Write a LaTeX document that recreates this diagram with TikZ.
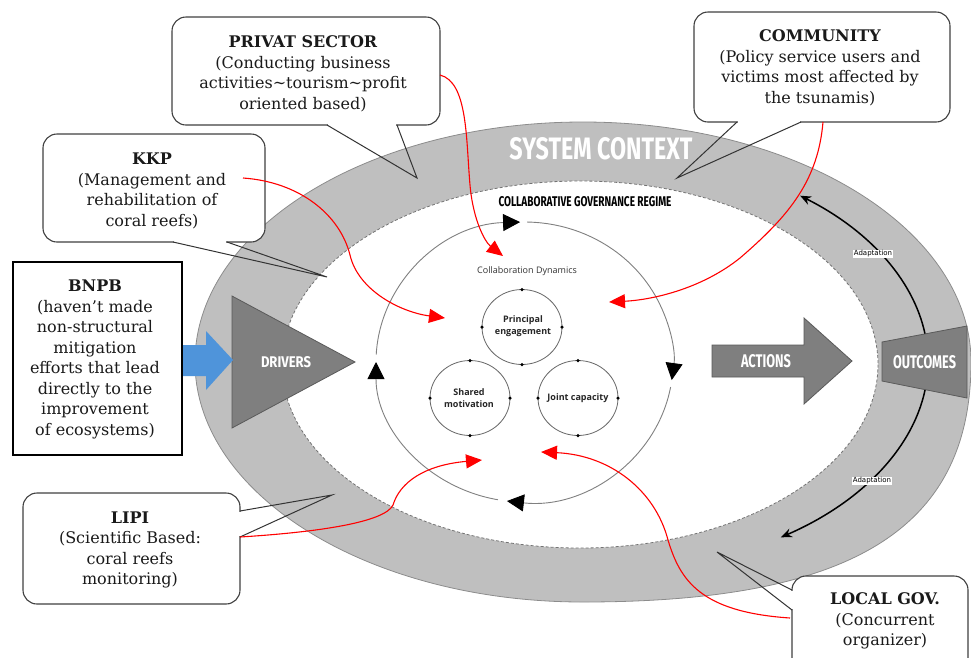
\documentclass[tikz,border=0pt]{standalone}
\usepackage{fontspec}
\usepackage{graphicx}
\setmainfont{DejaVu Serif}
\newfontfamily\labfont{Open Sans}
\newfontfamily\condfont{Fira Sans}
\newfontfamily\tinyfont{DejaVu Sans}
\usetikzlibrary{arrows.meta}
\definecolor{band}{HTML}{BFBFBF}
\definecolor{bandedge}{HTML}{8C8C8C}
\definecolor{shapefill}{HTML}{7F7F7F}
\definecolor{shapeedge}{HTML}{5A5A5A}
\definecolor{bluearrow}{HTML}{4F94DA}
\definecolor{txt}{HTML}{1A1A1A}
\newcommand{\condtext}[3]{\resizebox{#1}{#2}{\condfont\bfseries #3}}
\begin{document}
\begin{tikzpicture}[x=1pt,y=-1pt,
  callout/.style={draw=black!75, line width=1.1pt, rounded corners=14pt, fill=white, inner sep=0pt},
  plainbox/.style={draw=black, line width=1.3pt, fill=white, inner sep=0pt},
  calltext/.style={align=center, text=txt, font=\fontsize{16}{20.5}\selectfont, inner sep=0pt},
  eraser/.style={white, line width=2.6pt, shorten >=1.2pt, shorten <=1.2pt},
  pointer/.style={draw=black!80, line width=1pt, line join=miter},
  redarrow/.style={red, line width=1.1pt, -{Triangle[length=16pt,width=14pt]}},
  bigarc/.style={draw=black!50, line width=0.9pt, -{Triangle[length=17pt,width=17pt,color=black]}},
  smallcirc/.style={draw=black!60, line width=0.8pt},
  cdot/.style={circle, fill=black, inner sep=0pt, minimum size=3.5pt},
  adapt/.style={line width=1.5pt, -{Stealth[length=11pt,width=9pt]}},
  adaptlab/.style={fill=white, inner sep=1pt, font=\tinyfont\fontsize{7}{8}\selectfont},
  bigshape/.style={fill=shapefill, draw=shapeedge, line width=0.8pt},
  condlabel/.style={inner sep=0pt},
  smalllab/.style={align=center, inner sep=0pt, text=black!85, font=\labfont\bfseries\fontsize{9}{12}\selectfont}
]
\useasboundingbox (0,0) rectangle (971,657);

% ---- system context band ----
\path[fill=band, draw=bandedge, line width=0.8pt]
  (195,362) arc[start angle=180, end angle=360, x radius=388, y radius=240]
  .. controls (971,530) and (850,602) .. (583,602)
  arc[start angle=90, end angle=180, x radius=388, y radius=240] -- cycle;
\draw[fill=white, draw=black!55, line width=0.8pt, dash pattern=on 3pt off 2pt]
  (580,364.5) ellipse [x radius=298, y radius=183.5];

% ---- adaptation arcs ----
\draw[adapt] (583,362) ++(-6:345 and 214) arc[start angle=-6, end angle=-51, x radius=345, y radius=214];
\draw[adapt] (583,362) ++(6:345 and 214) arc[start angle=6, end angle=55, x radius=345, y radius=214];
\node[adaptlab] (ad1) at (873,254) {Adaptation};
\node[adaptlab] (ad2) at (872,481) {Adaptation};

% ---- collaboration dynamics circle ----
\begin{scope}[shift={(524.5,362)}]
  \draw[bigarc] (183:148.5 and 140) arc[start angle=183, end angle=268.3, x radius=148.5, y radius=140];
  \draw[bigarc] (271:148.5 and 140) arc[start angle=271, end angle=367.4, x radius=148.5, y radius=140];
  \draw[bigarc] (10.3:148.5 and 140) arc[start angle=10.3, end angle=96.8, x radius=148.5, y radius=140];
  \draw[bigarc] (100.3:148.5 and 140) arc[start angle=100.3, end angle=180, x radius=148.5, y radius=140];
\end{scope}
\node[inner sep=0pt, text=black!80, font=\labfont\fontsize{9}{11}\selectfont] (cdyn) at (527,271) {Collaboration Dynamics};

\draw[smallcirc] (522,327) ellipse [x radius=40, y radius=37.5];
\draw[smallcirc] (470,398) ellipse [x radius=40, y radius=37.5];
\draw[smallcirc] (578,398) ellipse [x radius=40, y radius=37.5];
\foreach \cx/\cy in {522/327, 470/398, 578/398}{
  \node[cdot] at (\cx,\cy-37.5) {};
  \node[cdot] at (\cx+40,\cy) {};
  \node[cdot] at (\cx,\cy+37.5) {};
  \node[cdot] at (\cx-40,\cy) {};
}
\node[smalllab] (pe) at (523,326.5) {Principal\\engagement};
\node[smalllab] (sm) at (469,398) {Shared\\motivation};
\node[smalllab] (jc) at (578,398) {Joint capacity};

% ---- drivers, actions, outcomes ----
\path[bigshape] (232,296) -- (355,362) -- (232,428) -- cycle;
\node[condlabel, text=white] (drv) at (286,362) {\condtext{50pt}{11pt}{DRIVERS}};
\path[bigshape] (712,345) -- (804,345) -- (804,318) -- (852,361) -- (804,404) -- (804,377) -- (712,377) -- cycle;
\node[condlabel, text=white] (act) at (766,361) {\condtext{50pt}{13pt}{ACTIONS}};
\path[bigshape] (882,342) -- (967,326) -- (967,398) -- (882,381) -- cycle;
\node[condlabel, text=white] (out) at (924.5,362) {\condtext{63pt}{13pt}{OUTCOMES}};

% ---- blue arrow ----
\fill[bluearrow] (182,345) -- (206,345) -- (206,331) -- (233,360) -- (206,390) -- (206,376) -- (182,376) -- cycle;

% ---- titles ----
\node[condlabel, text=white] (sc) at (601,149) {\condtext{183pt}{22pt}{SYSTEM CONTEXT}};
\node[condlabel, text=black] (cgr) at (585,202) {\condtext{173pt}{10pt}{COLLABORATIVE GOVERNANCE REGIME}};

% ---- callout boxes ----
\node[callout, minimum width=268pt, minimum height=108pt] (psbox) at (306,71) {};
\node[callout, minimum width=256pt, minimum height=110pt] (cmbox) at (822,67) {};
\node[callout, minimum width=222pt, minimum height=108pt] (kkbox) at (154,188) {};
\node[plainbox, minimum width=169pt, minimum height=193pt] (bnbox) at (97.5,358.5) {};
\node[callout, minimum width=217pt, minimum height=111pt] (lpbox) at (131.5,548.5) {};
\node[callout, minimum width=176pt, minimum height=114pt] (lgbox) at (880,633) {};

% pointer coordinates
\coordinate (psa) at (327,125); \coordinate (psb) at (397,125); \coordinate (pst) at (417,178);
\coordinate (cma) at (737,122); \coordinate (cmb) at (801,122); \coordinate (cmt) at (677,178);
\coordinate (kka) at (173,242); \coordinate (kkb) at (227,242); \coordinate (kkt) at (327,277);
\coordinate (lpa) at (240,511); \coordinate (lpb) at (240,537); \coordinate (lpt) at (332,495);
\coordinate (lga) at (792,590); \coordinate (lgb) at (792,610); \coordinate (lgt) at (717,552);
\foreach \p in {ps,cm,kk,lp,lg}{
  \draw[eraser] (\p a) -- (\p b);
  \draw[pointer] (\p a) -- (\p t) -- (\p b);
}

% ---- callout texts ----
\node[calltext] (pstext) at (303,74) {\textbf{PRIVAT SECTOR}\\(Conducting business\\activities\textasciitilde tourism\textasciitilde profit\\oriented based)};
\node[calltext] (cmtext) at (820,68) {\textbf{COMMUNITY}\\(Policy service users and\\victims most affected by\\the tsunamis)};
\node[calltext] (kktext) at (152,191) {\textbf{KKP}\\(Management and\\rehabilitation of\\coral reefs)};
\node[calltext] (bntext) at (95,359.5) {\textbf{BNPB}\\(haven’t made\\non-structural\\mitigation\\efforts that lead\\directly to the\\improvement\\of ecosystems)};
\node[calltext] (lptext) at (130,550) {\textbf{LIPI}\\(Scientific Based:\\coral reefs\\monitoring)};
\node[calltext] (lgtext) at (885,621) {\textbf{LOCAL GOV.}\\(Concurrent\\organizer)};

% ---- red influence arrows ----
\coordinate (r1s) at (440,75);  \coordinate (r1e) at (503,256);
\coordinate (r2s) at (243,178); \coordinate (r2e) at (445,318);
\coordinate (r3s) at (823,122); \coordinate (r3e) at (609,302);
\coordinate (r4s) at (240,537); \coordinate (r4e) at (482,460);
\coordinate (r5s) at (790,618); \coordinate (r5e) at (541,452);
\draw[redarrow] (r1s) .. controls (468,82) and (466,140) .. (470,185) .. controls (473,220) and (485,242) .. (r1e);
\draw[redarrow] (r2s) .. controls (300,182) and (340,215) .. (350,255) .. controls (358,290) and (400,312) .. (r2e);
\draw[redarrow] (r3s) .. controls (818,180) and (790,215) .. (740,258) .. controls (700,290) and (650,300) .. (r3e);
\draw[redarrow] (r4s) .. controls (320,532) and (385,522) .. (393,505) .. controls (400,482) and (425,465) .. (r4e);
\draw[redarrow] (r5s) .. controls (700,612) and (680,580) .. (668,540) .. controls (655,490) and (610,455) .. (r5e);
\end{tikzpicture}
\end{document}
